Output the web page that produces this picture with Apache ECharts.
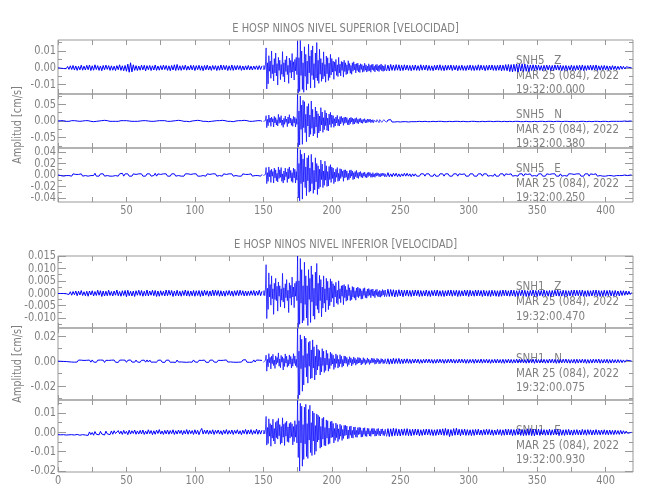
<!DOCTYPE html>
<html><head><meta charset="utf-8">
<script src="https://cdn.jsdelivr.net/npm/echarts@6/dist/echarts.min.js"></script>
<style>html,body{margin:0;padding:0;background:#fff}#c{width:650px;height:500px}</style>
</head><body><div id="c"></div>
<script>
// ---------------- data ----------------
// each trace = pre-event (0-149 s, 1 s step) + event (150-239.5 s, 0.5 s step) + coda (240-419 s, 1 s step)
const PRE_START = 0, PRE_STEP = 1;
const EVENT_START = 150, EVENT_STEP = 0.5;
const POST_START = 240, POST_STEP = 1;
const X_MIN = 0, X_MAX = 420;
const xTickValues = [0,25,50,75,100,125,150,175,200,225,250,275,300,325,350,375,400];
const xLabelsTop = [50,100,150,200,250,300,350,400];
const xLabelsBottom = [0,50,100,150,200,250,300,350,400];

const groupTitles = ['E HOSP NINOS NIVEL SUPERIOR [VELOCIDAD]', 'E HOSP NINOS NIVEL INFERIOR [VELOCIDAD]'];
const yAxisTitle = 'Amplitud [cm/s]';
const stations = ['SNH5   Z','SNH5   N','SNH5   E','SNH1   Z','SNH1   N','SNH1   E'];
const dates = ['MAR 25 (084), 2022','MAR 25 (084), 2022','MAR 25 (084), 2022','MAR 25 (084), 2022','MAR 25 (084), 2022','MAR 25 (084), 2022'];
const startTimes = ['19:32:00.000','19:32:00.380','19:32:00.250','19:32:00.470','19:32:00.075','19:32:00.930'];

const yMin = [-0.0155,-0.081,-0.047,-0.014,-0.031,-0.0205];
const yMax = [0.0165,0.081,0.047,0.015,0.0265,0.0167];
const yLabelValues = [[-0.01,0,0.01],[-0.05,0,0.05],[-0.04,-0.02,0,0.02,0.04],[-0.01,-0.005,0,0.005,0.01,0.015],[-0.02,0,0.02],[-0.02,-0.01,0,0.01]];
const yMinorValues = [[-0.015,-0.005,0.005,0.015],[-0.075,-0.025,0.025,0.075],[-0.03,-0.01,0.01,0.03],[-0.0125,-0.0075,-0.0025,0.0025,0.0075,0.0125],[-0.03,-0.01,0.01],[-0.015,-0.005,0.005,0.015]];
const yDecimals = [2,2,2,3,2,2];
const ampUnit = [1e-4,1e-3,1e-3,1e-4,1e-4,1e-4];   // unit of each trace array, cm/s

// ---- SNH5 Z (x1e-4 cm/s)
const snh5Z_pre = [
0,1,-2,3,-4,6,-5,8,-9,12,-10,14,-13,11,-15,9,-12,16,-14,10,
-13,15,-11,17,-16,12,-14,18,-10,13,-15,11,-17,14,-12,16,-9,13,-15,12,
-14,10,-16,13,-11,18,-15,12,-17,14,-20,22,-26,30,-24,18,-15,13,-16,11,
-14,16,-12,15,-18,13,-11,14,-16,12,-13,17,-15,11,-14,13,-12,16,-10,14,
-15,12,-17,14,-13,18,-16,20,-14,12,-15,13,-11,16,-14,10,-13,15,-12,14,
-16,13,-11,15,-14,12,-17,14,-12,16,-13,11,-15,14,-10,13,-16,12,-14,17,
-13,15,-11,14,-16,12,-14,17,-15,13,-12,14,-10,13,-15,11,-13,12,-11,14,
-12,10,-13,11,-9,12,-11,13,-10,12
];
const snh5Z_event = [
-12,14,-10,13,118,-125,30,-95,72,-20,40,-62,100,-35,18,-78,55,-30,88,-48,
25,-102,62,-15,45,-70,20,-38,96,-52,30,-84,48,-22,70,-40,15,-92,58,-28,
44,-60,85,-25,36,-72,50,-18,62,-40,158,-150,60,-140,162,-45,100,-128,30,-145,
125,-50,80,-132,40,-95,140,-30,70,-120,105,-45,130,-70,25,-118,88,-60,150,-76,
45,-92,110,-38,55,-80,30,-66,95,-50,20,-85,70,-35,60,-75,28,-58,80,-42,
55,-25,40,-68,35,-20,50,-45,18,-52,62,-30,22,-48,38,-15,34,-55,45,-22,
30,-40,18,-35,42,-15,26,-32,14,-38,30,-20,36,-12,22,-30,25,-16,28,-24,
16,-28,24,-10,20,-26,12,-22,27,-14,18,-25,10,-20,24,-17,15,-26,19,-12,
22,-16,10,-24,18,-13,21,-19,12,-22,17,-10,23,-18,14,-21,11,-17,20,-14
];
const snh5Z_post = [
-19,16,-18,20,-15,17,-16,19,-14,18,-17,15,-16,18,-13,16,-15,14,-17,15,
-14,17,-15,13,-16,18,-14,15,-13,17,-16,14,-15,12,-17,15,-13,16,-14,18,
-15,13,-17,16,-14,15,-12,17,-16,14,-13,15,-17,13,-14,16,-15,12,-16,14,
-13,17,-15,14,-16,13,-14,18,-15,16,-13,14,-17,15,-14,16,-13,17,-15,14,
-16,15,-14,17,-18,16,-15,19,-17,20,-22,19,-24,21,-20,23,-25,22,-19,24,
-21,23,-20,18,-22,17,-16,18,-15,17,-14,16,-15,13,-17,15,-14,16,-13,15,
-16,14,-15,17,-13,16,-14,15,-17,13,-15,14,-16,12,-14,16,-15,13,-16,14,
-13,15,-14,17,-16,13,-15,14,-12,16,-14,15,-13,17,-15,12,-14,13,-12,14,
-13,12,-14,11,-12,13,-10,11,-12,9,-10,11,-8,9,-7,6,-5,3,-2,0
];
// ---- SNH5 N (x1e-3 cm/s)
const snh5N_pre = [
0,0,1,-1,1,0,-1,1,-1,0,1,-1,1,-1,0,1,-1,1,0,-1,
1,-1,1,0,-1,1,-2,1,-1,1,0,-1,1,-1,2,-1,1,0,-1,1,
-1,1,-1,2,-1,0,1,-1,1,-2,1,-1,0,1,-1,1,-1,2,-1,1,
0,-1,1,-1,1,-1,0,2,-1,1,-1,1,0,-1,1,-2,1,-1,1,0,
-1,1,-1,1,0,-2,1,-1,2,-1,1,0,-1,1,-1,1,-2,1,0,-1,
1,-1,2,-1,1,0,-1,1,-1,1,-2,2,-1,1,0,-1,1,-1,1,-1,
2,-1,1,0,-1,1,-1,1,-2,1,0,-1,1,-1,1,-1,2,-1,1,0,
-1,1,-1,1,0,-1,1,-1,1,-1
];
const snh5N_event = [
-1,1,-1,1,16,-20,5,-14,18,-4,9,-16,12,-3,7,-18,14,-6,10,-12,
4,-15,20,-7,11,-5,16,-13,3,-19,8,-10,15,-4,6,-17,12,-8,19,-6,
9,-13,5,-16,14,-6,11,-18,7,-10,80,-78,30,-72,75,-25,48,-70,62,-20,
58,-35,20,-62,44,-15,52,-48,18,-40,60,-22,35,-45,12,-38,42,-18,30,-50,
22,-36,15,-30,40,-12,27,-34,10,-26,32,-14,24,-28,9,-30,21,-11,26,-19,
18,-8,16,-19,7,-15,12,-6,17,-14,5,-15,13,-9,14,-4,9,-13,11,-7,
12,-5,10,-11,4,-12,9,-8,11,-3,9,-10,6,-9,8,-4,10,-7,5,-8,
7,-3,8,-6,4,-7,5,-2,7,-6,3,-5,6,-4,5,-2,6,-5,3,-4,
4,-5,2,-4,5,-3,4,-1,3,-5,4,-2,3,-4,2,-3,4,-2,3,-3
];
const snh5N_post = [
-4,3,-3,4,-3,2,-3,3,-2,3,-3,2,-2,3,-2,2,-3,2,-2,2,
-2,1,-2,2,-1,2,-2,1,-1,2,-2,1,-2,2,-1,1,-2,2,-1,2,
-1,2,-2,1,-2,1,-1,2,-2,1,-1,2,-1,1,-2,2,-1,1,-2,1,
-2,1,-1,2,-1,2,-2,1,-2,1,-1,2,-2,1,-1,2,-1,2,-2,1,
-1,2,-1,1,-2,2,-1,2,-2,1,-1,1,-2,2,-1,2,-1,1,-2,1,
-2,1,-1,2,-2,1,-2,2,-1,1,-2,2,-1,2,-1,1,-2,1,-1,2,
-1,2,-2,1,-1,2,-1,1,-2,2,-1,1,-1,2,-2,1,-1,2,-2,1,
-2,1,-1,2,-1,1,-2,2,-1,1,-2,1,-1,2,-1,2,-2,1,-1,1,
-1,1,-2,1,-1,1,-1,2,-1,1,-1,1,-1,1,0,1,-1,0,0,0
];
// ---- SNH5 E (x1e-3 cm/s)
const snh5E_pre = [
0,1,-1,1,-2,1,-1,2,-1,1,-2,2,-1,1,-2,1,-1,2,-2,1,
-1,2,-2,1,-1,2,-1,3,-2,1,-2,2,-1,2,-2,1,-1,2,-2,1,
-2,1,-1,2,-2,2,-1,3,-2,2,-1,2,-2,1,-2,2,-1,1,-2,2,
-1,2,-2,1,-2,2,-1,2,-2,1,-1,3,-2,2,-1,1,-2,2,-1,2,
-2,1,-2,2,-1,2,-2,1,-1,2,-2,1,-2,2,-1,2,-1,1,-2,2,
-1,2,-2,1,-2,1,-1,2,-2,2,-1,1,-2,2,-1,2,-2,1,-1,2,
-2,2,-1,1,-2,2,-1,2,-2,1,-1,2,-2,1,-2,2,-1,1,-2,1,
-1,2,-2,1,-1,2,-1,1,-2,1
];
const snh5E_event = [
-1,2,-2,1,13,-15,4,-11,14,-3,8,-13,10,-2,6,-14,12,-5,9,-10,
3,-12,14,-6,9,-4,13,-11,2,-14,7,-9,12,-3,5,-13,11,-7,14,-5,
8,-11,4,-13,12,-5,10,-14,6,-9,47,-40,20,-45,44,-15,36,-42,28,-12,
38,-22,14,-36,30,-10,34,-30,12,-28,36,-15,22,-32,8,-26,30,-12,20,-34,
16,-24,10,-21,26,-8,19,-22,7,-18,24,-9,16,-20,6,-19,15,-8,18,-13,
14,-6,12,-15,5,-12,10,-4,13,-11,3,-10,11,-6,10,-3,7,-11,9,-5,
9,-4,7,-9,3,-8,8,-5,9,-2,7,-8,4,-7,6,-3,8,-5,4,-6,
5,-2,6,-4,3,-5,4,-2,5,-4,2,-5,4,-3,5,-1,4,-4,2,-4,
4,-3,2,-4,3,-2,4,-1,3,-3,2,-3,3,-2,3,-1,3,-3,2,-3
];
const snh5E_post = [
-3,4,-3,2,-3,3,-2,3,-3,2,-3,2,-2,3,-2,3,-2,2,-3,2,
-2,2,-2,1,-2,2,-1,2,-2,2,-1,2,-2,1,-2,2,-2,1,-2,2,
-1,2,-2,2,-1,2,-2,1,-2,2,-1,2,-2,2,-1,1,-2,2,-2,1,
-2,2,-1,2,-2,1,-2,2,-1,2,-2,2,-1,2,-2,1,-1,2,-2,2,
-2,1,-2,2,-1,2,-2,2,-1,1,-2,2,-2,1,-1,2,-2,2,-1,2,
-2,2,-1,1,-2,2,-2,1,-1,2,-2,2,-1,2,-2,1,-2,2,-1,1,
-2,2,-1,2,-2,1,-2,2,-2,1,-1,2,-2,2,-1,2,-1,1,-2,2,
-1,2,-2,1,-2,2,-1,2,-2,2,-1,1,-2,2,-2,1,-1,2,-2,1,
-2,1,-1,2,-1,1,-2,1,-1,1,-1,1,-1,1,0,1,-1,0,0,0
];
// ---- SNH1 Z (x1e-4 cm/s)
const snh1Z_pre = [
-1,-2,-1,-2,-1,0,-2,3,-5,6,-8,7,-6,9,-10,8,-7,11,-9,6,
-10,8,-12,9,-7,10,-11,7,-9,12,-8,10,-13,9,-11,8,-10,12,-9,7,
-11,9,-8,13,-10,7,-12,10,-9,11,-14,12,-10,8,-11,9,-13,10,-8,12,
-9,11,-12,8,-10,13,-11,9,-8,12,-10,11,-13,9,-12,10,-9,8,-11,13,
-10,12,-8,11,-13,9,-10,12,-11,8,-12,10,-9,13,-11,10,-12,9,-10,11,
-12,10,-9,11,-13,10,-11,12,-8,10,-12,9,-11,13,-10,12,-9,11,-12,10,
-11,9,-12,10,-8,11,-10,9,-12,10,-9,11,-10,12,-8,10,-11,9,-10,8,
-9,10,-8,11,-10,9,-8,12,-10,8
];
const snh1Z_event = [
-9,11,-10,12,115,-102,20,-65,82,-15,35,-48,70,-22,18,-85,40,-25,60,-30,
28,-72,45,-12,30,-55,18,-28,80,-35,22,-60,38,-18,55,-30,12,-78,42,-20,
32,-48,65,-15,25,-58,40,-12,48,-30,150,-138,50,-125,140,-40,95,-120,30,-110,
125,-45,70,-100,30,-130,95,-25,60,-118,110,-35,75,-92,20,-105,85,-50,120,-65,
40,-80,72,-30,55,-95,25,-60,70,-40,18,-75,60,-28,48,-66,22,-50,58,-35,
48,-20,38,-55,30,-15,44,-40,12,-45,50,-22,18,-38,30,-12,32,-46,35,-18,
28,-32,14,-28,35,-10,22,-30,12,-26,27,-15,24,-20,10,-28,21,-14,25,-18,
20,-12,18,-24,10,-22,19,-9,22,-18,8,-20,17,-12,19,-8,14,-18,15,-10,
17,-12,9,-18,14,-8,16,-13,7,-15,12,-16,9,-12,15,-7,11,-14,13,-9
];
const snh1Z_post = [
-14,16,-13,15,-12,14,-15,12,-13,14,-11,13,-14,12,-10,13,-12,11,-13,12,
-11,13,-10,12,-13,11,-12,10,-11,13,-12,10,-13,11,-10,12,-11,13,-12,10,
-12,11,-13,10,-11,12,-10,13,-12,11,-10,12,-13,11,-12,10,-11,13,-10,12,
-13,12,-11,10,-12,13,-11,12,-10,11,-13,12,-11,10,-12,11,-13,12,-10,11,
-12,10,-13,11,-12,13,-10,12,-11,10,-12,13,-11,12,-13,10,-12,11,-10,13,
-11,12,-13,10,-12,11,-10,13,-12,11,-13,12,-10,11,-12,13,-11,10,-12,11,
-13,11,-10,12,-11,13,-12,10,-11,12,-13,11,-12,10,-11,12,-10,13,-11,12,
-10,12,-11,13,-12,10,-13,11,-12,10,-11,12,-10,13,-12,11,-13,10,-11,12,
-12,11,-10,12,-11,10,-12,11,-10,9,-11,10,-9,10,-8,9,-7,8,-5,3
];
// ---- SNH1 N (x1e-4 cm/s)
const snh1N_pre = [
0,1,-1,2,-2,3,-3,4,-5,6,-7,5,-8,6,-7,9,-6,8,-7,6,
-8,7,-6,9,-8,10,-7,6,-9,8,-7,9,-6,8,-10,7,-8,6,-9,8,
-7,9,-8,6,-10,8,-7,9,-6,8,-9,7,-8,10,-7,6,-8,9,-7,8,
-9,7,-6,8,-8,10,-7,9,-8,6,-7,8,-9,7,-6,9,-8,7,-10,8,
-7,8,-9,6,-8,7,-10,9,-7,8,-6,9,-8,7,-9,6,-7,8,-8,10,
-6,8,-9,7,-8,6,-7,9,-8,7,-10,8,-6,9,-7,8,-9,7,-8,6,
-9,7,-8,10,-7,8,-6,9,-8,7,-9,6,-8,7,-7,9,-6,12,-8,7,
-9,6,-8,10,-7,9,-6,8,-7,6
];
const snh1N_event = [
-8,7,-9,6,48,-80,15,-45,60,-12,30,-62,40,-20,55,-35,10,-58,42,-25,
30,-12,66,-40,18,-52,46,-8,35,-70,22,-42,58,-15,40,-48,12,-36,50,-22,
38,-55,20,-40,60,-18,42,-36,15,-50,262,-300,80,-270,210,-60,175,-240,45,-190,
200,-50,185,-125,60,-175,150,-40,160,-140,90,-135,170,-55,115,-150,40,-110,130,-70,
95,-40,85,-110,30,-85,100,-35,80,-90,25,-75,88,-30,62,-80,20,-60,72,-35,
60,-22,48,-66,20,-50,58,-18,46,-55,15,-44,52,-20,40,-48,14,-38,42,-16,
38,-18,30,-42,15,-28,36,-12,26,-38,14,-25,34,-14,24,-32,12,-22,30,-15,
28,-14,22,-30,10,-20,28,-12,19,-28,9,-18,26,-10,17,-26,8,-16,24,-12,
22,-10,20,-24,9,-19,23,-8,18,-22,7,-18,21,-9,17,-20,8,-17,19,-10
];
const snh1N_post = [
-22,20,-24,18,-21,23,-19,20,-18,22,-20,17,-19,18,-16,19,-17,15,-18,16,
-15,17,-14,16,-18,13,-16,15,-14,17,-13,16,-15,14,-17,13,-16,15,-14,16,
-13,15,-17,14,-15,16,-13,17,-14,15,-16,13,-15,17,-14,16,-13,15,-17,14,
-16,14,-13,15,-17,16,-14,13,-15,17,-16,14,-13,16,-15,14,-17,13,-14,15,
-15,16,-14,13,-16,15,-17,14,-13,16,-15,14,-16,13,-14,17,-15,16,-13,14,
-14,13,-16,17,-15,14,-13,16,-17,15,-14,13,-15,16,-14,15,-16,13,-15,17,
-13,16,-15,14,-17,13,-16,15,-14,16,-13,17,-15,14,-16,13,-14,15,-17,16,
-15,14,-13,16,-14,15,-17,13,-16,14,-15,16,-13,15,-14,17,-16,13,-15,14,
-14,15,-16,13,-15,14,-13,12,-14,13,-12,11,-12,10,-9,8,-7,5,-3,1
];
// ---- SNH1 E (x1e-4 cm/s)
const snh1E_pre = [
-12,-11,-13,-10,-12,-9,-14,-8,-13,-10,-12,-7,-14,-9,-11,-6,-15,-8,-12,-5,
-14,-4,-16,2,-12,-1,-15,4,-10,-3,-13,5,-9,-2,-14,6,-8,-4,-12,7,
-10,8,-6,-12,9,-8,6,-11,10,-7,5,-12,11,-9,8,-6,12,-10,7,-9,
10,-8,12,-11,6,-9,13,-7,9,-12,8,-10,11,-6,14,-9,7,-11,10,-8,
12,-10,9,-7,13,-11,8,-9,12,-6,10,-12,9,-8,14,-10,11,-7,9,-11,
13,-8,10,-12,8,20,-9,11,-7,12,-10,9,-8,13,-11,10,-6,12,-9,8,
-12,11,-7,14,-10,9,-8,12,-11,10,-6,13,-9,8,-12,11,-7,15,-10,12,
-8,14,-11,9,-7,16,-10,12,-9,11
];
const snh1E_event = [
-9,11,-8,10,82,-66,25,-58,70,-20,45,-72,38,-30,68,-45,20,-60,52,-28,
60,-35,72,-18,40,-62,30,-55,75,-25,42,-68,50,-20,58,-48,28,-52,46,-30,
52,-22,44,-65,30,-48,60,-25,40,-55,165,-130,60,-200,150,-55,135,-175,40,-140,
130,-60,145,-125,45,-135,118,-40,140,-105,50,-120,110,-45,100,-115,35,-98,95,-50,
88,-40,80,-82,30,-76,72,-35,78,-68,25,-70,64,-30,60,-62,22,-58,55,-28,
58,-25,46,-55,20,-42,48,-28,40,-48,18,-36,42,-20,35,-42,15,-32,36,-18,
36,-14,32,-34,12,-32,30,-15,33,-28,10,-30,27,-12,28,-25,10,-26,24,-12,
26,-10,24,-25,9,-23,22,-11,24,-20,8,-22,21,-9,20,-19,8,-21,19,-10,
21,-9,19,-20,8,-19,18,-10,20,-17,7,-19,17,-8,18,-16,7,-17,16,-9
];
const snh1E_post = [
-21,19,-22,18,-20,21,-17,19,-18,16,-19,17,-15,18,-16,19,-17,15,-18,16,
-15,17,-14,16,-18,13,-16,15,-14,17,-13,16,-15,14,-17,13,-16,15,-14,16,
-13,18,-16,20,-15,16,-22,14,-17,19,-15,21,-14,16,-18,15,-13,17,-16,14,
-15,13,-17,14,-16,15,-13,16,-14,12,-15,14,-13,16,-12,15,-14,13,-16,12,
-13,15,-12,14,-16,13,-15,17,-14,16,-13,15,-17,14,-15,16,-13,18,-16,15,
-17,14,-16,18,-15,19,-17,16,-18,15,-14,17,-16,15,-13,14,-15,13,-14,16,
-15,13,-14,16,-13,15,-17,14,-15,13,-16,14,-13,15,-14,12,-15,13,-12,14,
-13,12,-14,15,-12,13,-15,14,-11,13,-14,12,-13,14,-12,11,-13,12,-11,13,
-12,11,-13,12,-11,10,-12,11,-10,9,-11,10,-9,8,-7,6,-5,4,-2,0
];
const traces = [
  [snh5Z_pre, snh5Z_event, snh5Z_post],
  [snh5N_pre, snh5N_event, snh5N_post],
  [snh5E_pre, snh5E_event, snh5E_post],
  [snh1Z_pre, snh1Z_event, snh1Z_post],
  [snh1N_pre, snh1N_event, snh1N_post],
  [snh1E_pre, snh1E_event, snh1E_post]
];

// ---------------- layout / style ----------------
const FONT = '"DejaVu Sans Condensed", "Liberation Sans", sans-serif';
const TXT = '#808080';
const FRAME = '#999999';
const GRID_LEFT = 58, GRID_RIGHT = 17;
const gridTop = [40, 94, 148, 256, 328, 400];
const gridH = [54, 54, 54, 72, 72, 72];
const annotOffsets = [[21, 35.5, 50], [21, 35.5, 50], [21, 36, 50], [31, 46, 60.5], [31, 46, 60], [31, 46, 60]];
const NARROW = 0.84;
const segStart = [PRE_START, EVENT_START, POST_START];
const segStep = [PRE_STEP, EVENT_STEP, POST_STEP];
const segWidth = [1.0, 0.7, 1.0];

const chart = echarts.init(document.getElementById('c'), null, {renderer: 'canvas'});
const grid = [], xAxis = [], yAxis = [], series = [];
const xIdx = [], yIdx = [];
traces.forEach((tr, g) => {
  grid.push({left: GRID_LEFT, right: GRID_RIGHT, top: gridTop[g], height: gridH[g], show: true,
    borderColor: FRAME, borderWidth: 1, backgroundColor: 'transparent', containLabel: false, outerBoundsMode: 'none'});
  const xBase = {type: 'value', gridIndex: g, min: X_MIN, max: X_MAX, splitLine: {show: false},
    axisLine: {show: false, onZero: false}, axisLabel: {show: false}};
  xIdx.push(xAxis.length);
  ['bottom', 'top'].forEach(pos => xAxis.push(Object.assign({}, xBase, {position: pos,
    axisTick: {show: true, inside: true, length: 5, customValues: xTickValues, lineStyle: {color: FRAME}}})));
  const yBase = {type: 'value', gridIndex: g, min: yMin[g], max: yMax[g], splitLine: {show: false},
    axisLine: {show: false, onZero: false}, axisLabel: {show: false}};
  yIdx.push(yAxis.length);
  ['left', 'right'].forEach(pos => {
    yAxis.push(Object.assign({}, yBase, {position: pos,
      axisTick: {show: true, inside: true, length: 8, customValues: yLabelValues[g], lineStyle: {color: FRAME}}}));
    yAxis.push(Object.assign({}, yBase, {position: pos,
      axisTick: {show: true, inside: true, length: 4, customValues: yMinorValues[g], lineStyle: {color: FRAME}}}));
  });
  const u = ampUnit[g];
  tr.forEach((arr, s) => {
    series.push({type: 'line', xAxisIndex: xIdx[g], yAxisIndex: yIdx[g], showSymbol: false, symbol: 'none',
      silent: true, animation: false, clip: true, z: 3,
      lineStyle: {color: '#0000ff', width: segWidth[s]},
      data: arr.map((v, i) => [segStart[s] + i * segStep[s], v * u])});
  });
});

chart.setOption({animation: false, backgroundColor: '#ffffff', grid, xAxis, yAxis, series});

// ---- texts (tick labels placed through the axes' own scales)
const graphics = [];
const txt = (text, x, y, align, vAlign, extra) => Object.assign({type: 'text', x, y, z: 1, scaleX: NARROW,
  style: {text, fill: TXT, fontFamily: FONT, fontSize: 13, align, verticalAlign: vAlign}}, extra || {});
traces.forEach((tr, g) => {
  yLabelValues[g].forEach(v => {
    const py = chart.convertToPixel({yAxisIndex: yIdx[g]}, v);
    graphics.push(txt(v.toFixed(yDecimals[g]), GRID_LEFT - 2, py, 'right', 'middle'));
  });
  if (g === 2 || g === 5) {
    (g === 2 ? xLabelsTop : xLabelsBottom).forEach(v => {
      const px = chart.convertToPixel({xAxisIndex: xIdx[g]}, v);
      graphics.push(txt(String(v), px, gridTop[g] + gridH[g] + 8.5, 'center', 'middle'));
    });
  }
  [stations[g], dates[g], startTimes[g]].forEach((t, j) => {
    graphics.push(txt(t, 516, gridTop[g] + annotOffsets[g][j], 'left', 'middle', {scaleX: 0.88}));
  });
});
const plotCenterX = GRID_LEFT + (650 - GRID_LEFT - GRID_RIGHT) / 2;
[0, 3].forEach((g, k) => {
  graphics.push(txt(groupTitles[k], plotCenterX, gridTop[g] - 11, 'center', 'middle', {scaleX: 0.85}));
  const midTop = gridTop[g], midBot = gridTop[g + 2] + gridH[g + 2];
  graphics.push(txt(yAxisTitle, 18, (midTop + midBot) / 2 + (k === 0 ? 4 : 0), 'center', 'middle',
    {rotation: Math.PI / 2, scaleX: 0.83}));
});
chart.setOption({graphic: graphics});

const lens = traces.map(t => t.map(a => a.length).join('/'));
if (lens.some(s => s !== '150/180/180')) throw new Error('segment lengths: ' + lens.join(', '));
</script></body></html>
